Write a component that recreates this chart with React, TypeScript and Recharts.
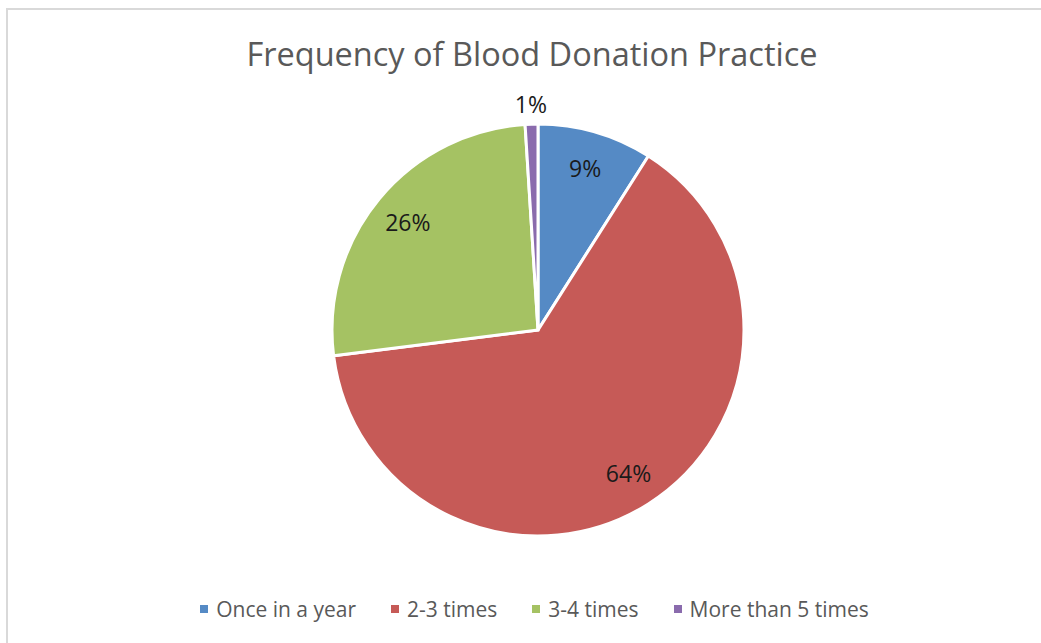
import React from "react";
import { PieChart, Pie, Cell, Legend } from "recharts";

const categories = ["Once in a year", "2-3 times", "3-4 times", "More than 5 times"];
const shares = [9, 64, 26, 1];
const colors = ["#558ac5", "#c65a57", "#a5c263", "#8a6bad"];

const data = categories.map((name, i) => ({ name, value: shares[i] }));

const RAD = Math.PI / 180;

const renderLabel = (props: any) => {
  const { cx, cy, midAngle, outerRadius, percent } = props;
  // small slices get their label outside, like Excel's best fit
  const r = percent < 0.05 ? outerRadius + 20 : outerRadius * 0.82;
  const x = cx + r * Math.cos(-midAngle * RAD);
  const y = cy + r * Math.sin(-midAngle * RAD);
  return (
    <text
      x={x}
      y={y}
      textAnchor="middle"
      dominantBaseline="central"
      fill="#1a1a1a"
      fontSize={23}
      fontFamily="'Open Sans', sans-serif"
    >
      {`${Math.round(percent * 100)}%`}
    </text>
  );
};

const renderLegend = () => (
  <div
    style={{
      display: "flex",
      justifyContent: "center",
      gap: 35,
      fontFamily: "'Open Sans', sans-serif",
      fontSize: 21,
      color: "#595959",
    }}
  >
    {data.map((d, i) => (
      <div key={d.name} style={{ display: "flex", alignItems: "center", gap: 8 }}>
        <div style={{ width: 8, height: 8, background: colors[i] }} />
        <span>{d.name}</span>
      </div>
    ))}
  </div>
);

export default function App() {
  return (
    <div
      style={{
        position: "absolute",
        left: 0,
        top: 0,
        width: 1041,
        height: 643,
        background: "#fff",
        overflow: "hidden",
      }}
    >
      <div
        style={{
          position: "absolute",
          left: 6,
          top: 8,
          width: 1100,
          height: 700,
          borderLeft: "2px solid #d9d9d9",
          borderTop: "2px solid #d9d9d9",
        }}
      />
      <div
        style={{
          position: "absolute",
          left: 0,
          top: 31,
          width: 1064,
          textAlign: "center",
          fontFamily: "'Open Sans', sans-serif",
          fontSize: 32.5,
          color: "#595959",
        }}
      >
        Frequency of Blood Donation Practice
      </div>
      <div style={{ position: "absolute", left: 0, top: 0 }}>
        <PieChart
          width={1041}
          height={643}
          margin={{ top: 0, right: 0, bottom: 0, left: 0 }}
        >
          <Pie
            data={data}
            dataKey="value"
            nameKey="name"
            cx={538}
            cy={330}
            outerRadius={206}
            startAngle={90}
            endAngle={-270}
            stroke="#ffffff"
            strokeWidth={3}
            label={renderLabel}
            labelLine={false}
            isAnimationActive={false}
          >
            {data.map((d, i) => (
              <Cell key={d.name} fill={colors[i]} />
            ))}
          </Pie>
          <Legend
            content={renderLegend}
            verticalAlign="bottom"
            wrapperStyle={{ bottom: 20, left: 14 }}
          />
        </PieChart>
      </div>
    </div>
  );
}
